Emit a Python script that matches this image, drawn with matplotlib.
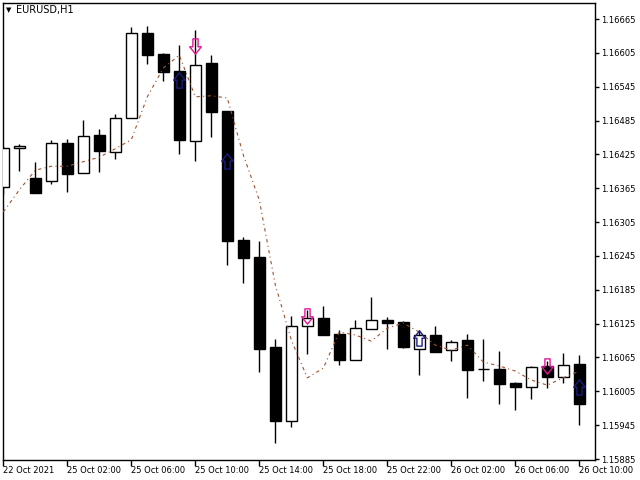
import matplotlib
matplotlib.use("Agg")
import matplotlib.pyplot as plt
from matplotlib.path import Path
import numpy as np

# EURUSD H1 candles
opens = [1.16367, 1.16436, 1.16383, 1.16378, 1.16445, 1.16392, 1.16459, 1.16429,
         1.16490, 1.16640, 1.16603, 1.16573, 1.16449, 1.16587, 1.16502, 1.16273,
         1.16243, 1.16084, 1.15952, 1.16121, 1.16135, 1.16107, 1.16061, 1.16116,
         1.16132, 1.16128, 1.16080, 1.16105, 1.16078, 1.16096, 1.16045, 1.16045,
         1.16020, 1.16013, 1.16050, 1.16030, 1.16053]
highs = [1.16440, 1.16443, 1.16412, 1.16451, 1.16452, 1.16486, 1.16470, 1.16497,
         1.16651, 1.16653, 1.16604, 1.16619, 1.16646, 1.16601, 1.16502, 1.16279,
         1.16271, 1.16098, 1.16139, 1.16149, 1.16156, 1.16114, 1.16132, 1.16172,
         1.16137, 1.16130, 1.16114, 1.16121, 1.16096, 1.16107, 1.16098, 1.16076,
         1.16022, 1.16050, 1.16059, 1.16073, 1.16069]
lows = [1.16355, 1.16396, 1.16357, 1.16373, 1.16358, 1.16392, 1.16394, 1.16417,
        1.16490, 1.16585, 1.16555, 1.16426, 1.16413, 1.16456, 1.16229, 1.16197,
        1.16039, 1.15913, 1.15942, 1.16071, 1.16105, 1.16052, 1.16061, 1.16116,
        1.16080, 1.16082, 1.16034, 1.16075, 1.16059, 1.15993, 1.16023, 1.15983,
        1.15972, 1.15991, 1.16011, 1.16020, 1.15945]
closes = [1.16436, 1.16440, 1.16357, 1.16445, 1.16390, 1.16458, 1.16431, 1.16490,
          1.16640, 1.16601, 1.16571, 1.16451, 1.16583, 1.16500, 1.16271, 1.16241,
          1.16080, 1.15952, 1.16121, 1.16135, 1.16105, 1.16061, 1.16117, 1.16132,
          1.16126, 1.16084, 1.16105, 1.16075, 1.16092, 1.16043, 1.16044, 1.16018,
          1.16013, 1.16048, 1.16030, 1.16052, 1.15983]
ma = [1.16323, 1.16362, 1.16397, 1.16404, 1.16404, 1.16412, 1.16420, 1.16435,
      1.16451, 1.16527, 1.16578, 1.16601, 1.16527, 1.16529, 1.16525, 1.16424,
      1.16344, 1.16194, 1.16096, 1.16029, 1.16046, 1.16110, 1.16105, 1.16094,
      1.16117, 1.16126, 1.16110, 1.16087, 1.16078, 1.16087, 1.16057, 1.16050,
      1.16041, 1.16025, 1.16016, 1.16029, 1.16041]

# signal arrows (bar index, price)
sell_bars = [12, 19, 34]
sell_prices = [1.16618, 1.16138, 1.16050]
buy_bars = [11, 14, 26, 36]
buy_prices = [1.16556, 1.16414, 1.16100, 1.16012]

date_ticks = [0, 4, 8, 12, 16, 20, 24, 28, 32, 36]
date_labels = ["22 Oct 2021", "25 Oct 02:00", "25 Oct 06:00", "25 Oct 10:00",
               "25 Oct 14:00", "25 Oct 18:00", "25 Oct 22:00", "26 Oct 02:00",
               "26 Oct 06:00", "26 Oct 10:00"]
price_ticks = [1.15885, 1.15945, 1.16005, 1.16065, 1.16125, 1.16185, 1.16245,
               1.16305, 1.16365, 1.16425, 1.16485, 1.16545, 1.16605, 1.16665]

fig = plt.figure(figsize=(6.4, 4.8), dpi=100)
ax = fig.add_axes([2.5 / 640, 20.5 / 480, 592 / 640, 457 / 480])

x = np.arange(len(opens))
o = np.array(opens)
c = np.array(closes)
up = c >= o

# wicks behind bodies
ax.vlines(x, lows, highs, color="black", linewidth=1, zorder=2)
body_bottom = np.minimum(o, c)
body_h = np.maximum(np.abs(c - o), 0.000012)
ax.bar(x[up], body_h[up], bottom=body_bottom[up], width=0.66,
       facecolor="white", edgecolor="black", linewidth=1, zorder=3)
ax.bar(x[~up], body_h[~up], bottom=body_bottom[~up], width=0.66,
       facecolor="black", edgecolor="black", linewidth=1, zorder=3)

# moving average, sparse dash-dot
ax.plot(x, ma, color="#A0522D", linewidth=0.8, dashes=(3, 3, 1, 3), zorder=4)

# hollow arrows
up_arrow = Path([(0, 0.5), (0.38, 0.02), (0.17, 0.02), (0.17, -0.5),
                 (-0.17, -0.5), (-0.17, 0.02), (-0.38, 0.02), (0, 0.5)],
                [Path.MOVETO] + [Path.LINETO] * 6 + [Path.CLOSEPOLY])
down_arrow = Path([(0, -0.5), (0.38, -0.02), (0.17, -0.02), (0.17, 0.5),
                   (-0.17, 0.5), (-0.17, -0.02), (-0.38, -0.02), (0, -0.5)],
                  [Path.MOVETO] + [Path.LINETO] * 6 + [Path.CLOSEPOLY])
ax.plot(buy_bars, buy_prices, linestyle="none", marker=up_arrow, markersize=11,
        markerfacecolor="none", markeredgecolor="#1C1C80", markeredgewidth=1, zorder=5)
ax.plot(sell_bars, sell_prices, linestyle="none", marker=down_arrow, markersize=11,
        markerfacecolor="none", markeredgecolor="#E0189A", markeredgewidth=1, zorder=5)

ax.set_xlim(-0.05, 36.95)
ax.set_ylim(1.158842, 1.1669425)

ax.yaxis.tick_right()
ax.set_yticks(price_ticks)
ax.set_yticklabels(["%.5f" % p for p in price_ticks])
ax.set_xticks(date_ticks)
ax.set_xticklabels(date_labels)
for lbl in ax.get_xticklabels():
    lbl.set_horizontalalignment("left")
ax.tick_params(axis="y", direction="out", length=3, width=1, pad=2, labelsize=6)
ax.tick_params(axis="x", direction="out", length=4, width=1, pad=1, labelsize=6)
for sp in ax.spines.values():
    sp.set_linewidth(1)
    sp.set_color("black")

# symbol label in the corner
fig.text(9 / 640, 1 - 10.5 / 480, "\u25BC", fontsize=5, ha="center", va="center")
fig.text(16 / 640, 1 - 10.5 / 480, "EURUSD,H1", fontsize=7, ha="left", va="center")

fig.savefig("out.png", dpi=100, facecolor="white")
